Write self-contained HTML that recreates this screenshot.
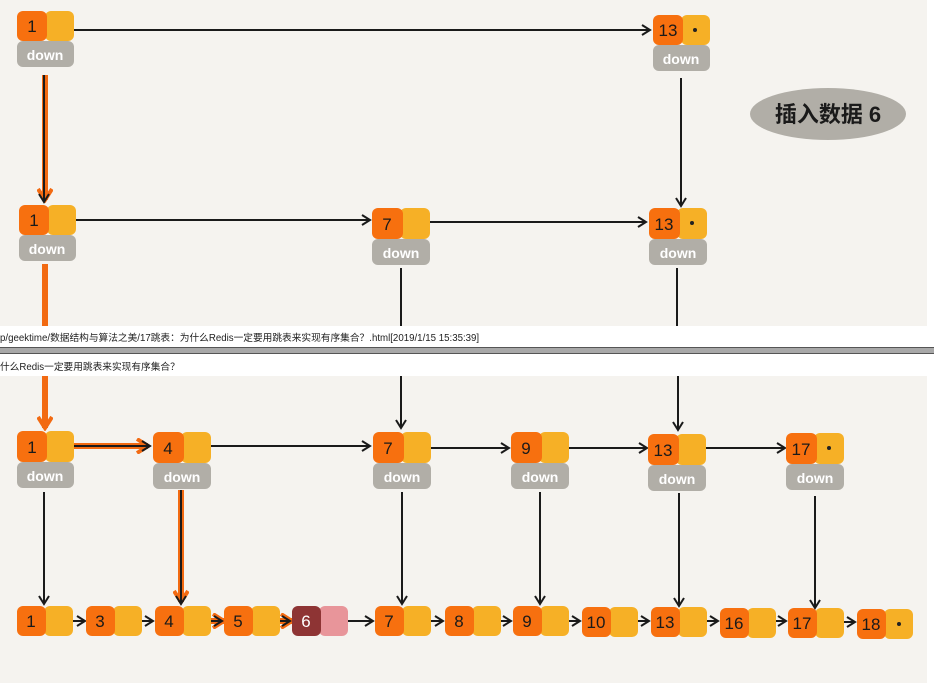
<!DOCTYPE html>
<html><head><meta charset="utf-8"><style>
html,body{margin:0;padding:0;background:#fff;}
svg{display:block;}
.n{font-family:"Liberation Sans",sans-serif;font-size:17px;fill:#1a1a1a;text-anchor:middle;}
.d{font-family:"Liberation Sans",sans-serif;font-size:14px;fill:#fff;text-anchor:middle;font-weight:bold;}
</style></head><body>
<svg width="934" height="683" viewBox="0 0 934 683" xmlns="http://www.w3.org/2000/svg">
<defs>
<marker id="a" markerWidth="12" markerHeight="12" refX="10" refY="6" orient="auto" markerUnits="userSpaceOnUse"><path d="M2,1 L10,6 L2,11" fill="none" stroke="#1a1a1a" stroke-width="2"/></marker>
<marker id="o" markerWidth="16" markerHeight="16" refX="13" refY="8" orient="auto" markerUnits="userSpaceOnUse"><path d="M2,1 L13,8 L2,15" fill="none" stroke="#f26a12" stroke-width="4"/></marker>
</defs>
<rect x="0" y="0" width="927" height="683" fill="#f5f3ef"/>

<g stroke="#f26a12" stroke-width="6" fill="none">
<line x1="45" y1="75" x2="45" y2="200" marker-end="url(#o)"/>
<line x1="45" y1="264" x2="45" y2="428" marker-end="url(#o)"/>
<line x1="62" y1="446" x2="148" y2="446" marker-end="url(#o)"/>
<line x1="181" y1="490" x2="181" y2="602" marker-end="url(#o)"/>
<line x1="198" y1="621" x2="224" y2="621" marker-end="url(#o)"/>
<line x1="267" y1="621" x2="292" y2="621" marker-end="url(#o)"/>
</g>

<g stroke="#1a1a1a" stroke-width="2" fill="none" marker-end="url(#a)">
<line x1="62" y1="30" x2="650" y2="30"/>
<line x1="44" y1="75" x2="44" y2="202"/>
<line x1="64" y1="220" x2="370" y2="220"/>
<line x1="418" y1="222" x2="646" y2="222"/>
<line x1="681" y1="78" x2="681" y2="206"/>
<line x1="62" y1="446" x2="150" y2="446"/>
<line x1="200" y1="446" x2="370" y2="446"/>
<line x1="418" y1="448" x2="509" y2="448"/>
<line x1="554" y1="448" x2="647" y2="448"/>
<line x1="690" y1="448" x2="785" y2="448"/>
<line x1="44" y1="492" x2="44" y2="604"/>
<line x1="181" y1="490" x2="181" y2="604"/>
<line x1="402" y1="492" x2="402" y2="604"/>
<line x1="540" y1="492" x2="540" y2="604"/>
<line x1="679" y1="493" x2="679" y2="606"/>
<line x1="815" y1="496" x2="815" y2="608"/>
<line x1="62" y1="621" x2="85" y2="621"/>
<line x1="130" y1="621" x2="153" y2="621"/>
<line x1="198" y1="621" x2="222" y2="621"/>
<line x1="268" y1="621" x2="290" y2="621"/>
<line x1="339" y1="621" x2="373" y2="621"/>
<line x1="420" y1="621" x2="443" y2="621"/>
<line x1="488" y1="621" x2="511" y2="621"/>
<line x1="557" y1="621" x2="580" y2="621"/>
<line x1="625" y1="621" x2="649" y2="621"/>
<line x1="694" y1="621" x2="718" y2="621"/>
<line x1="763" y1="621" x2="786" y2="621"/>
<line x1="832" y1="622" x2="855" y2="622"/>
</g>
<g stroke="#1a1a1a" stroke-width="2">
<line x1="401" y1="268" x2="401" y2="326"/>
<line x1="401" y1="376" x2="401" y2="428" marker-end="url(#a)"/>
<line x1="677" y1="268" x2="677" y2="326"/>
<line x1="678" y1="376" x2="678" y2="430" marker-end="url(#a)"/>
</g>

<g>
<g transform="translate(17,11)"><rect x="0" y="30" width="57" height="26" rx="6" fill="#b1aea7"/><text class="d" x="28" y="49">down</text><rect x="28" y="0" width="29" height="30" rx="6" fill="#f6b026"/><rect x="0" y="0" width="30" height="30" rx="6" fill="#f7700f"/><text class="n" x="15" y="21">1</text></g>
<g transform="translate(653,15)"><rect x="0" y="30" width="57" height="26" rx="6" fill="#b1aea7"/><text class="d" x="28" y="49">down</text><rect x="28" y="0" width="29" height="30" rx="6" fill="#f6b026"/><rect x="0" y="0" width="30" height="30" rx="6" fill="#f7700f"/><text class="n" x="15" y="21">13</text><circle cx="42" cy="15" r="2" fill="#222"/></g>
<g transform="translate(19,205)"><rect x="0" y="30" width="57" height="26" rx="6" fill="#b1aea7"/><text class="d" x="28" y="49">down</text><rect x="28" y="0" width="29" height="30" rx="6" fill="#f6b026"/><rect x="0" y="0" width="30" height="30" rx="6" fill="#f7700f"/><text class="n" x="15" y="21">1</text></g>
<g transform="translate(372,208)"><rect x="0" y="31" width="58" height="26" rx="6" fill="#b1aea7"/><text class="d" x="29" y="50">down</text><rect x="28" y="0" width="30" height="31" rx="6" fill="#f6b026"/><rect x="0" y="0" width="31" height="31" rx="6" fill="#f7700f"/><text class="n" x="15" y="22">7</text></g>
<g transform="translate(649,208)"><rect x="0" y="31" width="58" height="26" rx="6" fill="#b1aea7"/><text class="d" x="29" y="50">down</text><rect x="28" y="0" width="30" height="31" rx="6" fill="#f6b026"/><rect x="0" y="0" width="31" height="31" rx="6" fill="#f7700f"/><text class="n" x="15" y="22">13</text><circle cx="43" cy="15" r="2" fill="#222"/></g>

<g transform="translate(17,431)"><rect x="0" y="31" width="57" height="26" rx="6" fill="#b1aea7"/><text class="d" x="28" y="50">down</text><rect x="28" y="0" width="29" height="31" rx="6" fill="#f6b026"/><rect x="0" y="0" width="30" height="31" rx="6" fill="#f7700f"/><text class="n" x="15" y="22">1</text></g>
<g transform="translate(153,432)"><rect x="0" y="31" width="58" height="26" rx="6" fill="#b1aea7"/><text class="d" x="29" y="50">down</text><rect x="28" y="0" width="30" height="31" rx="6" fill="#f6b026"/><rect x="0" y="0" width="31" height="31" rx="6" fill="#f7700f"/><text class="n" x="15" y="22">4</text></g>
<g transform="translate(373,432)"><rect x="0" y="31" width="58" height="26" rx="6" fill="#b1aea7"/><text class="d" x="29" y="50">down</text><rect x="28" y="0" width="30" height="31" rx="6" fill="#f6b026"/><rect x="0" y="0" width="31" height="31" rx="6" fill="#f7700f"/><text class="n" x="15" y="22">7</text></g>
<g transform="translate(511,432)"><rect x="0" y="31" width="58" height="26" rx="6" fill="#b1aea7"/><text class="d" x="29" y="50">down</text><rect x="28" y="0" width="30" height="31" rx="6" fill="#f6b026"/><rect x="0" y="0" width="31" height="31" rx="6" fill="#f7700f"/><text class="n" x="15" y="22">9</text></g>
<g transform="translate(648,434)"><rect x="0" y="31" width="58" height="26" rx="6" fill="#b1aea7"/><text class="d" x="29" y="50">down</text><rect x="28" y="0" width="30" height="31" rx="6" fill="#f6b026"/><rect x="0" y="0" width="31" height="31" rx="6" fill="#f7700f"/><text class="n" x="15" y="22">13</text></g>
<g transform="translate(786,433)"><rect x="0" y="31" width="58" height="26" rx="6" fill="#b1aea7"/><text class="d" x="29" y="50">down</text><rect x="28" y="0" width="30" height="31" rx="6" fill="#f6b026"/><rect x="0" y="0" width="31" height="31" rx="6" fill="#f7700f"/><text class="n" x="15" y="22">17</text><circle cx="43" cy="15" r="2" fill="#222"/></g>
</g>

<g>
<g transform="translate(17,606)"><rect x="27" y="0" width="29" height="30" rx="6" fill="#f6b026"/><rect x="0" y="0" width="29" height="30" rx="6" fill="#f7700f"/><text class="n" x="14" y="21">1</text></g>
<g transform="translate(86,606)"><rect x="27" y="0" width="29" height="30" rx="6" fill="#f6b026"/><rect x="0" y="0" width="29" height="30" rx="6" fill="#f7700f"/><text class="n" x="14" y="21">3</text></g>
<g transform="translate(155,606)"><rect x="27" y="0" width="29" height="30" rx="6" fill="#f6b026"/><rect x="0" y="0" width="29" height="30" rx="6" fill="#f7700f"/><text class="n" x="14" y="21">4</text></g>
<g transform="translate(224,606)"><rect x="27" y="0" width="29" height="30" rx="6" fill="#f6b026"/><rect x="0" y="0" width="29" height="30" rx="6" fill="#f7700f"/><text class="n" x="14" y="21">5</text></g>
<g transform="translate(292,606)"><rect x="27" y="0" width="29" height="30" rx="6" fill="#e8959a"/><rect x="0" y="0" width="29" height="30" rx="6" fill="#8e3434"/><text class="n" x="14" y="21" style="fill:#fff">6</text></g>
<g transform="translate(375,606)"><rect x="27" y="0" width="29" height="30" rx="6" fill="#f6b026"/><rect x="0" y="0" width="29" height="30" rx="6" fill="#f7700f"/><text class="n" x="14" y="21">7</text></g>
<g transform="translate(445,606)"><rect x="27" y="0" width="29" height="30" rx="6" fill="#f6b026"/><rect x="0" y="0" width="29" height="30" rx="6" fill="#f7700f"/><text class="n" x="14" y="21">8</text></g>
<g transform="translate(513,606)"><rect x="27" y="0" width="29" height="30" rx="6" fill="#f6b026"/><rect x="0" y="0" width="29" height="30" rx="6" fill="#f7700f"/><text class="n" x="14" y="21">9</text></g>
<g transform="translate(582,607)"><rect x="27" y="0" width="29" height="30" rx="6" fill="#f6b026"/><rect x="0" y="0" width="29" height="30" rx="6" fill="#f7700f"/><text class="n" x="14" y="21">10</text></g>
<g transform="translate(651,607)"><rect x="27" y="0" width="29" height="30" rx="6" fill="#f6b026"/><rect x="0" y="0" width="29" height="30" rx="6" fill="#f7700f"/><text class="n" x="14" y="21">13</text></g>
<g transform="translate(720,608)"><rect x="27" y="0" width="29" height="30" rx="6" fill="#f6b026"/><rect x="0" y="0" width="29" height="30" rx="6" fill="#f7700f"/><text class="n" x="14" y="21">16</text></g>
<g transform="translate(788,608)"><rect x="27" y="0" width="29" height="30" rx="6" fill="#f6b026"/><rect x="0" y="0" width="29" height="30" rx="6" fill="#f7700f"/><text class="n" x="14" y="21">17</text></g>
<g transform="translate(857,609)"><rect x="27" y="0" width="29" height="30" rx="6" fill="#f6b026"/><rect x="0" y="0" width="29" height="30" rx="6" fill="#f7700f"/><text class="n" x="14" y="21">18</text><circle cx="42" cy="15" r="2" fill="#222"/></g>
</g>

<ellipse cx="828" cy="114" rx="78" ry="26" fill="#b1aea7"/>
<text x="828" y="122" font-family="'Liberation Sans','Noto Sans CJK SC',sans-serif" font-size="22" font-weight="bold" fill="#1a1a1a" text-anchor="middle">插入数据 6</text>

<rect x="0" y="326" width="934" height="21" fill="#fff"/>
<rect x="0" y="347" width="934" height="7" fill="#a8a8a8"/>
<line x1="0" y1="347.5" x2="934" y2="347.5" stroke="#555" stroke-width="1"/>
<line x1="0" y1="353.5" x2="934" y2="353.5" stroke="#555" stroke-width="1"/>
<rect x="0" y="354" width="934" height="22" fill="#fff"/>
<text x="0" y="341" font-family="'Liberation Sans','Noto Sans CJK SC',sans-serif" font-size="9.7" fill="#222">p/geektime/数据结构与算法之美/17跳表：为什么Redis一定要用跳表来实现有序集合？.html[2019/1/15 15:35:39]</text>
<text x="0" y="370" font-family="'Liberation Sans','Noto Sans CJK SC',sans-serif" font-size="9.7" fill="#222">什么Redis一定要用跳表来实现有序集合？</text>
</svg>
</body></html>
